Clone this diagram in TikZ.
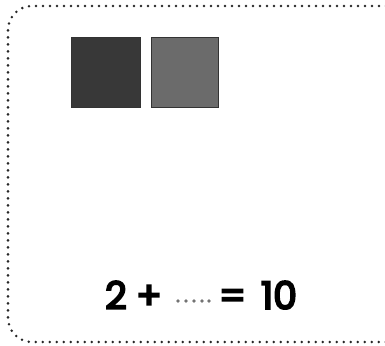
\documentclass[tikz,border=0pt]{standalone}
\usepackage{fontspec}
\newfontfamily\eqfont{Poppins}[FakeBold=5]
\begin{document}
\begin{tikzpicture}[x=1pt,y=-1pt,
  dotline/.style={draw=black!85, line width=2.8pt, dash pattern=on 0pt off 7pt, line cap=round},
  sq/.style={draw=black!80, line width=0.8pt},
  gdot/.style={circle, fill=black!55, minimum size=3.6pt, inner sep=0pt},
  eq/.style={font=\fontsize{38}{40}\eqfont, text=black, inner sep=0pt}]
\useasboundingbox (0,0) rectangle (385,345);
\draw[dotline, rounded corners=24pt] (400,6) -- (8,6) -- (8,342) -- (400,342);
\node[sq, fill=black!78, minimum width=69pt, minimum height=69pt, inner sep=0pt, anchor=north west] (s1) at (70.5,37.5) {};
\node[sq, fill=black!58, minimum width=67pt, minimum height=69pt, inner sep=0pt, anchor=north west] (s2) at (150.5,37.5) {};
\node[eq, anchor=base] (t2) at (116,309) {2};
\node[eq, anchor=base] (tp) at (149,309) {+};
\node[gdot] (d1) at (178,301) {};
\node[gdot] (d2) at (186,301) {};
\node[gdot] (d3) at (194,301) {};
\node[gdot] (d4) at (202,301) {};
\node[gdot] (d5) at (209,301) {};
\node[eq, anchor=base] (te) at (232.5,309) {=};
\node[eq, anchor=base] (t10) at (279,309) {10};
\end{tikzpicture}
\end{document}
